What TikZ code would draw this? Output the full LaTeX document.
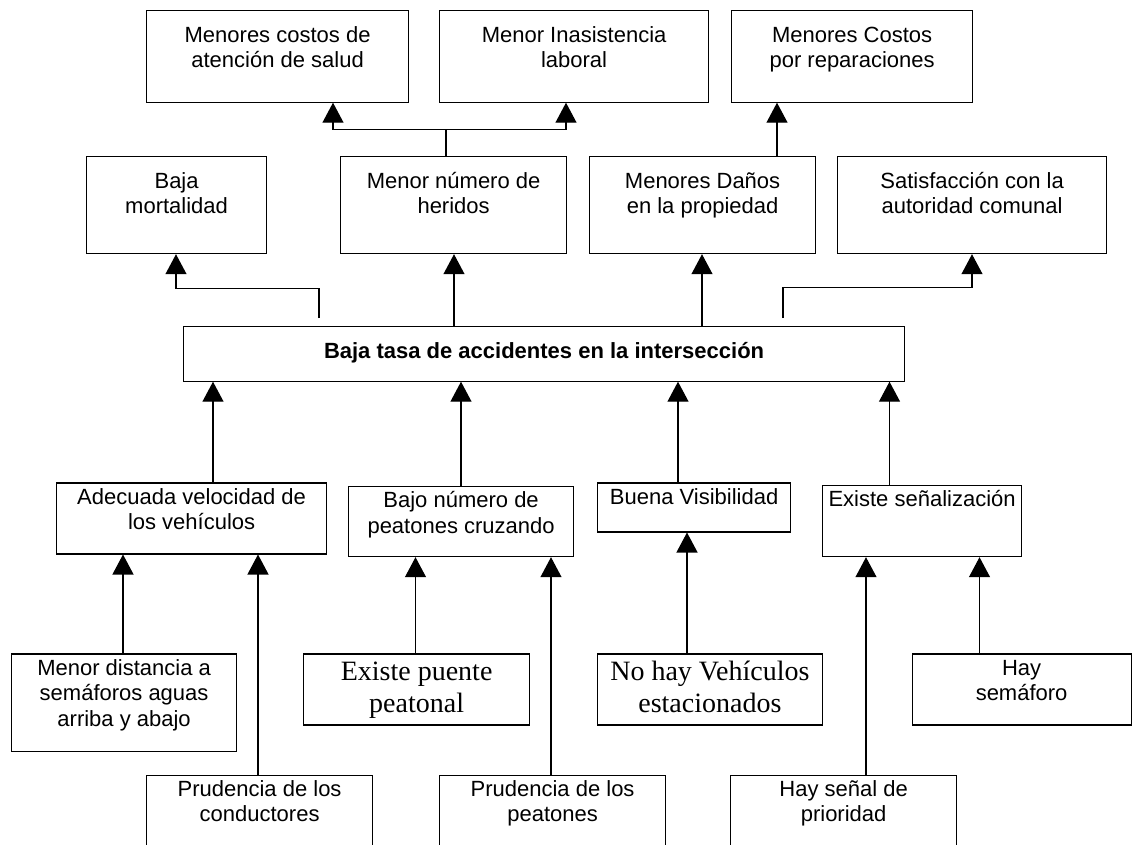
\documentclass[tikz,border=0pt]{standalone}
\usepackage{fontspec}
\setmainfont{Liberation Sans}
\newfontfamily\serifface{Liberation Serif}
\usetikzlibrary{arrows.meta,calc}
\newcommand\firstline{\rule{0pt}{18pt}}
\newcommand\firstserif{\rule{0pt}{22pt}}
\begin{document}
\begin{tikzpicture}[x=1pt,y=-1pt,
  box/.style={draw, line width=1.2pt, inner sep=0pt, anchor=north west},
  txt/.style={align=center, inner sep=0pt, anchor=north, font=\fontsize{22}{25.5}\selectfont},
  stxt/.style={align=center, inner sep=0pt, anchor=north, font=\serifface\fontsize{28}{32}\selectfont},
  link/.style={line width=1.2pt},
  arr/.style={line width=1.2pt, -{Triangle[width=21pt,length=20pt]}}]
\useasboundingbox (0,0) rectangle (1132,844);
\clip (0,0) rectangle (1132,844);

% ---- consequences, upper row
\node[box, minimum width=262pt, minimum height=91.5pt] (A) at (146,10) {};
\node[box, minimum width=269pt, minimum height=91.5pt] (B) at (439,10) {};
\node[box, minimum width=241pt, minimum height=91.5pt] (C) at (731,10) {};
\node[txt] (At) at ([yshift=-14pt]A.north) {\firstline Menores costos de\\atención de salud};
\node[txt] (Bt) at ([yshift=-14pt]B.north) {\firstline Menor Inasistencia\\laboral};
\node[txt] (Ct) at ([yshift=-14pt]C.north) {\firstline Menores Costos\\por reparaciones};

% ---- consequences, lower row
\node[box, minimum width=180pt, minimum height=97pt] (M) at (86,156) {};
\node[box, minimum width=226pt, minimum height=97pt] (H) at (340,156) {};
\node[box, minimum width=226pt, minimum height=97pt] (D) at (589,156) {};
\node[box, minimum width=269pt, minimum height=97pt] (S) at (837,156) {};
\node[txt] (Mt) at ([yshift=-14pt]M.north) {\firstline Baja\\mortalidad};
\node[txt] (Ht) at ([yshift=-14pt]H.north) {\firstline Menor número de\\heridos};
\node[txt] (Dt) at ([yshift=-14pt]D.north) {\firstline Menores Daños\\en la propiedad};
\node[txt] (St) at ([yshift=-14pt]S.north) {\firstline Satisfacción con la\\autoridad comunal};

% ---- central objective
\node[box, minimum width=721pt, minimum height=54.5pt] (X) at (183,326) {};
\node[anchor=base, inner sep=0pt, font=\fontsize{22}{26}\selectfont\bfseries] (Xt)
  at ([yshift=-32.3pt]X.north) {Baja tasa de accidentes en la intersección};

% ---- means, first level
\node[box, minimum width=270pt, minimum height=71pt] (V) at (56,482.3) {};
\node[box, minimum width=225pt, minimum height=70pt] (P) at (348,486) {};
\node[box, minimum width=193pt, minimum height=49pt] (G) at (597,482.3) {};
\node[box, minimum width=199pt, minimum height=71pt] (E) at (822,485) {};
\node[txt] (Vt) at ([yshift=-3.5pt]V.north) {\firstline Adecuada velocidad de\\los vehículos};
\node[txt] (Pt) at ([yshift=-3.5pt]P.north) {\firstline Bajo número de\\peatones cruzando};
\node[txt] (Gt) at ([yshift=-3.5pt]G.north) {\firstline Buena Visibilidad};
\node[txt] (Et) at ([yshift=-3.5pt]E.north) {\firstline Existe señalización};

% ---- means, second level
\node[box, minimum width=225pt, minimum height=97.5pt] (L1) at (11,653.3) {};
\node[box, minimum width=226pt, minimum height=71pt] (L2) at (303,653.3) {};
\node[box, minimum width=225.5pt, minimum height=71pt] (L3) at (596.5,653.3) {};
\node[box, minimum width=219pt, minimum height=71pt] (L4) at (911.5,653.3) {};
\node[txt] (L1t) at ([yshift=-3.5pt]L1.north) {\firstline Menor distancia a\\semáforos aguas\\arriba y abajo};
\node[stxt] (L2t) at ([yshift=-5.4pt]L2.north) {\firstserif Existe puente\\peatonal};
\node[stxt] (L3t) at ([yshift=-5.4pt]L3.north) {\firstserif No hay Vehículos\\estacionados};
\node[txt] (L4t) at ([yshift=-3.5pt]L4.north) {\firstline Hay\\semáforo};

% ---- means, third level (run past the lower edge)
\node[box, minimum width=226pt, minimum height=100pt] (B1) at (146,774.5) {};
\node[box, minimum width=226pt, minimum height=100pt] (B2) at (439,774.5) {};
\node[box, minimum width=226pt, minimum height=100pt] (B3) at (730,774.5) {};
\node[txt] (B1t) at ([yshift=-3.5pt]B1.north) {\firstline Prudencia de los\\conductores};
\node[txt] (B2t) at ([yshift=-3.5pt]B2.north) {\firstline Prudencia de los\\peatones};
\node[txt] (B3t) at ([yshift=-3.5pt]B3.north) {\firstline Hay señal de\\prioridad};

% ---- attachment points
\coordinate (h0) at ($(H.north west)+(106,0)$);
\coordinate (ja) at ($(A.south west)+(187,26.5)$);
\coordinate (jb) at ($(B.south west)+(127,26.5)$);
\coordinate (d0) at ($(D.north west)+(188,0)$);
\coordinate (xm) at ($(X.north west)+(136,-8)$);
\coordinate (mm) at ($(M.south west)+(90,34)$);
\coordinate (xh) at ($(X.north west)+(271,0)$);
\coordinate (xd) at ($(X.north west)+(519,0)$);
\coordinate (xs) at ($(X.north west)+(600,-8)$);
\coordinate (ss) at ($(S.south west)+(135,33)$);
\coordinate (v1) at ($(V.north west)+(157,0)$);
\coordinate (p1) at ($(P.north west)+(113,0)$);
\coordinate (g1) at ($(G.north west)+(81,0)$);
\coordinate (e1) at ($(E.north west)+(67.5,0)$);
\coordinate (l1) at ($(L1.north west)+(112,0)$);
\coordinate (b1) at ($(B1.north west)+(112,0)$);
\coordinate (l2) at ($(L2.north west)+(112.5,0)$);
\coordinate (b2) at ($(B2.north west)+(112,0)$);
\coordinate (l3) at ($(L3.north west)+(90.5,0)$);
\coordinate (b3) at ($(B3.north west)+(136,0)$);
\coordinate (l4) at ($(L4.north west)+(68,0)$);

% ---- connectors between consequence rows
\draw[arr] (h0) -- (h0 |- ja) -| (jb |- B.south);
\draw[arr] (h0 |- ja) -| (ja |- A.south);
\draw[arr] (d0) -- (d0 |- C.south);

% ---- objective to consequences
\draw[arr] (xm) |- (mm) -- (mm |- M.south);
\draw[arr] (xh) -- (xh |- H.south);
\draw[arr] (xd) -- (xd |- D.south);
\draw[arr] (xs) |- (ss) -- (ss |- S.south);

% ---- means to objective
\draw[arr] (v1) -- (v1 |- X.south);
\draw[arr] (p1) -- (p1 |- X.south);
\draw[arr] (g1) -- (g1 |- X.south);
\draw[arr] (e1) -- (e1 |- X.south);

% ---- lower means to first-level means
\draw[arr] (l1) -- (l1 |- V.south);
\draw[arr] (b1) -- (b1 |- V.south);
\draw[arr] (l2) -- (l2 |- P.south);
\draw[arr] (b2) -- (b2 |- P.south);
\draw[arr] (l3) -- (l3 |- G.south);
\draw[arr] (b3) -- (b3 |- E.south);
\draw[arr] (l4) -- (l4 |- E.south);
\end{tikzpicture}
\end{document}
